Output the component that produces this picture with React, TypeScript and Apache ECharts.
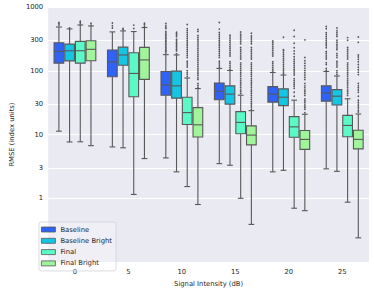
import React, { useEffect, useRef } from 'react';
import * as echarts from 'echarts';

const categories = ['0', '5', '10', '15', '20', '25'];
const hues = ['Baseline', 'Baseline Bright', 'Final', 'Final Bright'];
const colors = ['#2f62f6', '#14c6e4', '#5bf9c6', '#a0f59b'];
const yTicks = [1, 3, 10, 30, 100, 300, 1000];

// [lower whisker, Q1, median, Q3, upper whisker] per category
const baselineStats = [
  [11.3, 132, 202, 275, 486],
  [6.4, 80.7, 138, 212, 407],
  [4.3, 41.4, 60, 97.5, 179],
  [3.5, 35.1, 47.8, 64.4, 109],
  [2.6, 32.3, 43, 56.5, 94],
  [2.9, 33.4, 45, 58, 97.5],
];
const baselineBrightStats = [
  [7.65, 143, 206, 262, 453],
  [6.2, 122, 177, 235, 422],
  [2.6, 37.2, 58, 98.9, 177],
  [3.3, 30, 43, 58, 101],
  [2.75, 28.4, 38.5, 52, 85.8],
  [2.65, 29, 40, 50.7, 82.8],
];
const finalStats = [
  [7.7, 132, 206, 289, 522],
  [1.15, 39.1, 90.8, 192, 412],
  [1.53, 14.4, 22.1, 38.5, 77],
  [1.0, 10.3, 15.5, 22.9, 41.4],
  [0.7, 9.05, 13.2, 19.1, 34.6],
  [0.87, 9.25, 13.9, 20, 36.4],
];
const finalBrightStats = [
  [6.7, 144, 217, 295, 504],
  [4.2, 73.3, 148, 233, 476],
  [0.8, 9.15, 14.2, 26.4, 52.6],
  [0.39, 6.9, 9.8, 13.7, 23.7],
  [0.64, 5.85, 8.4, 11.6, 20.8],
  [0.24, 5.96, 8.4, 11.7, 21],
];

// outliers per category
const baselineOutliers = [
  [520, 545, 570],
  [430, 470, 510, 560],
  [190, 200, 210, 220, 232, 245, 258, 272, 287, 302, 318, 335, 353, 372, 392, 413, 435, 458, 482, 510, 550],
  [115, 123, 132, 141, 151, 162, 174, 186, 200, 214, 229, 246, 263, 282, 302, 324, 347, 372, 399, 430, 450, 570],
  [99, 106, 113, 121, 130, 139, 149, 160, 171, 183, 196, 210, 225, 241, 258, 276, 292],
  [102, 109, 117, 125, 134, 143, 153, 164, 176, 188, 201, 215, 230, 246, 263, 281, 301, 322, 345, 369, 395, 423, 455, 493],
];
const baselineBrightOutliers = [
  [470, 490],
  [440, 460],
  [185, 195, 205, 216, 228, 240, 253, 266, 280, 295, 311, 328, 345, 363, 382, 402],
  [106, 113, 121, 130, 139, 149, 160, 171, 183, 196, 210, 225, 241, 258, 277, 297, 318, 340, 362],
  [90, 96, 103, 110, 118, 127, 136, 146, 156, 167, 179, 192, 206, 214, 336],
  [87, 93, 100, 107, 115, 123, 132, 141, 151, 162, 174, 186, 199, 213, 228, 244, 261, 280, 300, 321, 344, 368, 394, 425, 469],
];
const finalOutliers = [
  [540, 570, 600],
  [430, 460, 490, 520],
  [81, 87, 93, 100, 107, 115, 123, 132, 141, 151, 162, 174, 186, 200, 214, 229, 246, 263, 282, 302, 324, 347, 372, 399, 427, 458, 490, 530],
  [44, 47, 50, 54, 58, 62, 66, 71, 76, 82, 88, 94, 101, 108, 116, 124, 133, 143, 153, 164, 176, 188, 202, 216, 232, 248, 266, 285, 305, 327, 350, 375, 405],
  [37, 40, 43, 46, 49, 53, 57, 61, 65, 70, 75, 80, 86, 92, 99, 106, 114, 122, 131, 141, 152, 166, 185, 205, 230, 270, 345, 432],
  [38.5, 41, 44, 47, 50, 54, 58, 62, 66, 71, 76, 82, 88, 94, 101, 108, 116, 124, 133, 143, 153, 164, 176, 188, 202, 216, 232, 300, 331],
];
const finalBrightOutliers = [
  [520, 555],
  [500, 530, 555],
  [55, 59, 63, 68, 73, 78, 84, 90, 96, 103, 110, 118, 127, 136, 146, 156, 167, 179, 192, 206, 221, 237, 254, 272, 292, 313, 335, 359, 385, 413, 443, 487],
  [25, 27, 29, 31, 33, 35.5, 38, 41, 44, 47, 50, 54, 58, 62, 66, 71, 76, 82, 88, 94, 101, 108, 116, 124, 133, 143, 153, 164, 176, 188, 202, 216, 232, 248, 266, 285, 305, 327, 350, 388],
  [22, 23.5, 25, 26.5, 28, 30, 32, 34, 36, 38.5, 41, 44, 47, 50, 54, 58, 63, 68, 73, 79, 86, 93, 101, 110, 120, 131, 144, 162, 195, 305],
  [22.5, 24, 26, 28, 30, 32, 34.5, 37, 40, 43, 46, 50, 54, 58, 63, 68, 74, 80, 87, 95, 104, 114, 125, 138, 152, 165, 177, 279, 339],
];

const allStats = [baselineStats, baselineBrightStats, finalStats, finalBrightStats];
const allOutliers = [baselineOutliers, baselineBrightOutliers, finalOutliers, finalBrightOutliers];

const EDGE = '#585858';
const FONT = 'DejaVu Sans';
const TEXT = '#262626';

export default function App() {
  const ref = useRef<HTMLDivElement>(null);
  useEffect(() => {
    document.body.style.margin = '0';
    if (!ref.current) return;
    const chart = echarts.init(ref.current, null, { renderer: 'svg' });

    const boxSeries = hues.map((name, h) => ({
      type: 'custom',
      name,
      itemStyle: { color: colors[h], borderColor: EDGE },
      encode: { x: 0, y: [1, 2, 3, 4, 5] },
      data: allStats[h].map((s, i) => [i, ...s.map((v) => Math.log10(v))]),
      renderItem: (params: any, api: any) => {
        const i = api.value(0);
        const band = api.size([1, 0])[0];
        const w = (band * 0.8) / 4;
        const cx = api.coord([i, api.value(3)])[0] + (h - 1.5) * w;
        const y = (k: number) => api.coord([i, api.value(k)])[1];
        const lo = y(1), q1 = y(2), med = y(3), q3 = y(4), hi = y(5);
        const cap = w * 0.27;
        const ls = { stroke: EDGE, lineWidth: 1.1 };
        return {
          type: 'group',
          children: [
            { type: 'line', shape: { x1: cx, y1: hi, x2: cx, y2: q3 }, style: ls },
            { type: 'line', shape: { x1: cx, y1: q1, x2: cx, y2: lo }, style: ls },
            { type: 'line', shape: { x1: cx - cap, y1: hi, x2: cx + cap, y2: hi }, style: ls },
            { type: 'line', shape: { x1: cx - cap, y1: lo, x2: cx + cap, y2: lo }, style: ls },
            {
              type: 'rect',
              shape: { x: cx - w / 2 + 0.5, y: q3, width: w - 1, height: q1 - q3 },
              style: { fill: colors[h], stroke: EDGE, lineWidth: 1.1 },
            },
            { type: 'line', shape: { x1: cx - w / 2 + 0.5, y1: med, x2: cx + w / 2 - 0.5, y2: med }, style: ls },
          ],
        };
      },
      z: 2,
    }));

    const outlierSeries = hues.map((name, h) => ({
      type: 'custom',
      name: name + ' outliers',
      encode: { x: 0, y: 1 },
      data: allOutliers[h].flatMap((arr, i) => arr.map((v) => [i, Math.log10(v)])),
      renderItem: (params: any, api: any) => {
        const i = api.value(0);
        const band = api.size([1, 0])[0];
        const w = (band * 0.8) / 4;
        const p = api.coord([i, api.value(1)]);
        return {
          type: 'circle',
          shape: { cx: p[0] + (h - 1.5) * w, cy: p[1], r: 0.85 },
          style: { fill: '#555555' },
        };
      },
      z: 3,
    }));

    chart.setOption({
      animation: false,
      textStyle: { fontFamily: FONT },
      grid: {
        left: 36,
        right: 5,
        top: 7,
        bottom: 27,
        show: true,
        backgroundColor: '#eaeaf2',
        borderWidth: 0,
      },
      legend: {
        orient: 'vertical',
        left: 39,
        top: 222,
        itemWidth: 14,
        itemHeight: 5,
        itemGap: 4.3,
        padding: [4, 4, 4, 2],
        backgroundColor: 'rgba(255,255,255,0.25)',
        borderColor: '#d2d2da',
        borderWidth: 0.8,
        borderRadius: 2,
        textStyle: { fontSize: 6.8, color: TEXT, fontFamily: FONT },
        data: hues.map((n, k) => ({
          name: n,
          icon: 'rect',
          itemStyle: { color: colors[k], borderColor: EDGE, borderWidth: 0.8 },
        })),
      },
      xAxis: {
        type: 'category',
        data: categories,
        axisLine: { show: false },
        axisTick: { show: false },
        splitLine: { show: false },
        axisLabel: { fontSize: 6.8, color: TEXT, margin: 6, fontFamily: FONT },
        name: 'Signal Intensity (dB)',
        nameLocation: 'middle',
        nameGap: 15,
        nameTextStyle: { fontSize: 6.8, color: TEXT, fontFamily: FONT },
      },
      yAxis: {
        type: 'value',
        min: -1,
        max: 3,
        axisLine: { show: false },
        axisTick: { show: false, customValues: yTicks.map((v) => Math.log10(v)) },
        axisLabel: {
          customValues: yTicks.map((v) => Math.log10(v)),
          formatter: (v: number) => String(Math.round(Math.pow(10, v))),
          fontSize: 6.8,
          color: TEXT,
          margin: 5,
          fontFamily: FONT,
        },
        splitLine: { show: true, lineStyle: { color: '#ffffff', width: 1 } },
        name: 'RMSE (index units)',
        nameLocation: 'middle',
        nameGap: 27,
        nameTextStyle: { fontSize: 6.8, color: TEXT, fontFamily: FONT },
      },
      series: [...boxSeries, ...outlierSeries],
    });
    return () => chart.dispose();
  }, []);
  return <div ref={ref} style={{ width: 374, height: 292 }} />;
}
